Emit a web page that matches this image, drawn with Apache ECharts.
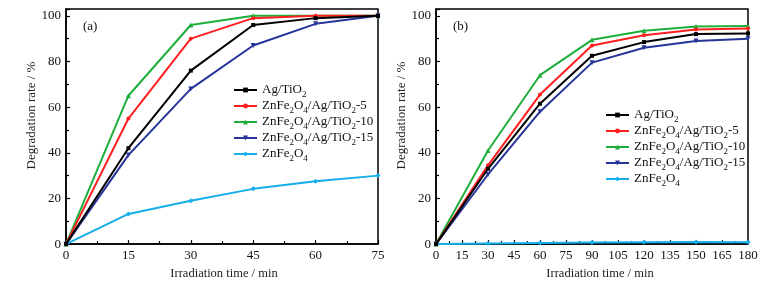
<!DOCTYPE html>
<html><head><meta charset="utf-8">
<script src="https://cdn.jsdelivr.net/npm/echarts@6/dist/echarts.min.js"></script>
<style>html,body{margin:0;padding:0;background:#fff}#c{width:764px;height:285px}</style>
</head><body><div id="c"></div>
<script>
// ---- data ----
const timeA = [0, 15, 30, 45, 60, 75];
const timeB = [0, 30, 60, 90, 120, 150, 180];
const seriesNames = ['Ag/TiO2', 'ZnFe2O4/Ag/TiO2-5', 'ZnFe2O4/Ag/TiO2-10', 'ZnFe2O4/Ag/TiO2-15', 'ZnFe2O4'];
const legendRich = ['Ag/TiO{s|2}', 'ZnFe{s|2}O{s|4}/Ag/TiO{s|2}-5', 'ZnFe{s|2}O{s|4}/Ag/TiO{s|2}-10', 'ZnFe{s|2}O{s|4}/Ag/TiO{s|2}-15', 'ZnFe{s|2}O{s|4}'];
// panel (a)
const aAgTiO2 = [0, 42, 76, 96, 99, 100];
const aZ5 = [0, 55, 90, 99, 100, 100];
const aZ10 = [0, 65, 96, 100, 100, 100];
const aZ15 = [0, 39, 68, 87, 96.5, 100];
const aZnFe2O4 = [0, 13.2, 19, 24.2, 27.5, 30];
// panel (b)
const bAgTiO2 = [0, 33, 61.5, 82.5, 88.5, 92, 92.3];
const bZ5 = [0, 34.5, 65.5, 87, 91.5, 94, 94.5];
const bZ10 = [0, 41, 74, 89.5, 93.5, 95.3, 95.5];
const bZ15 = [0, 30.5, 58, 79.5, 86, 89, 90];
const bZnFe2O4 = [0, 0.3, 0.5, 0.7, 0.8, 0.9, 0.8];
const yTicks = [0, 20, 40, 60, 80, 100];
const panelLabels = ['(a)', '(b)'];
const xName = 'Irradiation time / min';
const yName = 'Degradation rate / %';

// ---- styles ----
const FONT = 'Liberation Serif';
const colors = ['#000000', '#ff1f1f', '#1fae3c', '#27349a', '#16aeea'];
const symbols = ['rect', 'circle', 'triangle', 'path://M0,0 L10,0 L5,9 Z', 'diamond'];
const sizes = [4, 4, 5, 5, 5];

const chart = echarts.init(document.getElementById('c'), null, {renderer: 'canvas'});

function mk(name, i, data, xIdx, xs) {
  return {
    name: name, type: 'line', xAxisIndex: xIdx, yAxisIndex: xIdx,
    data: data.map((v, k) => [xs[k], v]),
    symbol: symbols[i], symbolSize: sizes[i], showSymbol: true,
    lineStyle: {color: colors[i], width: 2}, itemStyle: {color: colors[i]},
    animation: false, z: 10 - i
  };
}
const aSets = [aAgTiO2, aZ5, aZ10, aZ15, aZnFe2O4];
const bSets = [bAgTiO2, bZ5, bZ10, bZ15, bZnFe2O4];
const series = [];
aSets.forEach((d, i) => series.push(mk(seriesNames[i], i, d, 0, timeA)));
bSets.forEach((d, i) => series.push(mk(seriesNames[i], i, d, 1, timeB)));

const axisTxt = {fontFamily: FONT, fontSize: 13, color: '#111'};
function xAx(idx, max) {
  return {
    gridIndex: idx, type: 'value', min: 0, max: max, interval: 15,
    name: xName, nameLocation: 'middle', nameGap: 22,
    nameTextStyle: {fontFamily: FONT, fontSize: 12.5, color: '#222', padding: idx ? [0, 0, 0, 16] : [0, 0, 0, 4]},
    axisLine: {show: true, onZero: false, lineStyle: {color: '#000', width: 1.5}},
    axisTick: {show: true, inside: true, length: 4, lineStyle: {color: '#000', width: 1.2}},
    minorTick: {show: true, splitNumber: 2, length: 3, lineStyle: {color: '#000', width: 1.2}},
    axisLabel: Object.assign({margin: 5}, axisTxt),
    splitLine: {show: false}
  };
}
function yAx(idx) {
  return {
    gridIndex: idx, type: 'value', min: 0, max: 103, interval: 20,
    name: yName, nameLocation: 'middle', nameGap: 24,
    nameTextStyle: {fontFamily: FONT, fontSize: 13, color: '#222', padding: [0, 0, 0, 22]},
    axisLine: {show: true, lineStyle: {color: '#000', width: 1.5}},
    axisTick: {show: true, inside: true, length: 4, lineStyle: {color: '#000', width: 1.2}},
    minorTick: {show: true, splitNumber: 2, length: 3, lineStyle: {color: '#000', width: 1.2}},
    axisLabel: Object.assign({margin: 5, showMaxLabel: false,
      formatter: v => (yTicks.indexOf(v) >= 0 ? String(v) : '')}, axisTxt),
    splitLine: {show: false}
  };
}
function legend(idx, left, top) {
  return {
    orient: 'vertical', left: left, top: top, padding: 0, itemWidth: 23, itemHeight: 6, itemGap: -2,
    data: seriesNames,
    formatter: n => legendRich[seriesNames.indexOf(n)],
    textStyle: {fontFamily: FONT, fontSize: 13, color: '#111', lineHeight: 18,
      rich: {s: {fontFamily: FONT, fontSize: 9, color: '#111', verticalAlign: 'bottom'}}},
    selectedMode: false, itemStyle: {borderWidth: 0}
  };
}
chart.setOption({
  backgroundColor: '#fff',
  animation: false,
  title: [
    {text: panelLabels[0], left: 83, top: 20, padding: 0, textStyle: {fontFamily: FONT, fontSize: 13, fontWeight: 'normal', color: '#111'}},
    {text: panelLabels[1], left: 453, top: 20, padding: 0, textStyle: {fontFamily: FONT, fontSize: 13, fontWeight: 'normal', color: '#111'}}
  ],
  grid: [
    {left: 66, right: 386, top: 9, bottom: 40, show: true, borderColor: '#000', borderWidth: 1.5, backgroundColor: 'transparent'},
    {left: 436, right: 16, top: 9, bottom: 40, show: true, borderColor: '#000', borderWidth: 1.5, backgroundColor: 'transparent'}
  ],
  xAxis: [xAx(0, 75), xAx(1, 180)],
  yAxis: [yAx(0), yAx(1)],
  legend: [legend(0, 233, 81), legend(1, 605, 106)],
  series: series
});
</script></body></html>
